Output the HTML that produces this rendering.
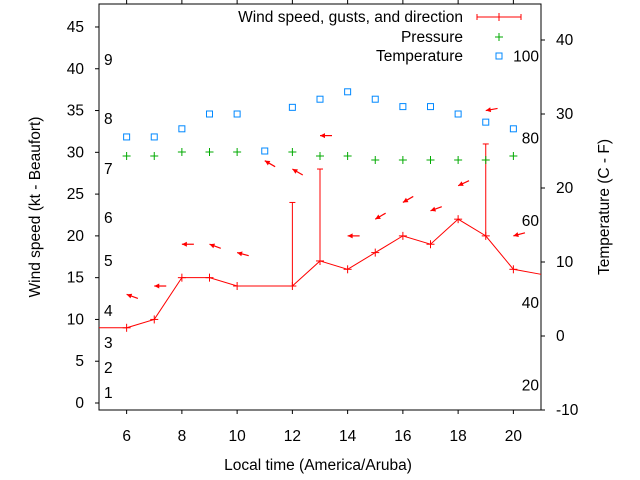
<!DOCTYPE html>
<html><head><meta charset="utf-8"><style>
body{margin:0;background:#fff}
svg{display:block;font-family:"Liberation Sans",sans-serif;font-size:15.5px}
</style></head><body>
<svg id="c" width="640" height="480" viewBox="0 0 640 480">
<rect x="0" y="0" width="640" height="480" fill="#fff"/>
</svg>
<script>
const hours=[6,7,8,9,10,12,13,14,15,16,17,18,19,20];
const windKt=[9,10,15,15,14,14,17,16,18,20,19,22,20,16];
const gustHours=[12,13,19];
const gustKt=[24,28,31];
const windStart=9, windEnd=15.4;
const arrowHours=[6,7,8,9,10,11,12,13,14,15,16,17,18,19,20];
const arrowLevel=[13,14,19,19,18,29,28,32,20,22,24,23,26,35,20];
const windDir=[110,90,90,110,105,120,120,90,90,60,60,70,65,80,75];
const presHours=[6,7,8,9,10,12,13,14,15,16,17,18,19,20];
const pressure=[1012.5,1012.5,1013,1013,1013,1013,1012.5,1012.5,1012,1012,1012,1012,1012,1012.5];
const tempHours=[6,7,8,9,10,11,12,13,14,15,16,17,18,19,20];
const tempC=[26.9,26.9,28,30,30,25,30.9,32,33,32,31,31,30,28.9,28];
const xTicks=[6,8,10,12,14,16,18,20];
const yTicks=[0,5,10,15,20,25,30,35,40,45];
const y2Ticks=[-10,0,10,20,30,40];
const beaufort=[[1,393],[2,368],[3,343],[4,311],[5,261],[6,218],[7,169],[8,119],[9,60]];
const fahr=[100,80,60,40,20];

const L=99,R=541,T=4,B=410;
const X=h=>L+(h-5)*(R-L)/16;
const Y=v=>403-8.356*v;
const Y2=c=>336-7.4*c;
const YP=p=>160-8*(p-1012);
const svg=document.getElementById('c');
const NS='http://www.w3.org/2000/svg';
function mk(t,a,p){const e=document.createElementNS(NS,t);for(const k in a)e.setAttribute(k,a[k]);(p||svg).appendChild(e);return e;}
function txt(s,x,y,anchor,p){const e=mk('text',{x:x,y:y,'text-anchor':anchor||'start',fill:'#000'},p);e.textContent=s;return e;}

const fr=mk('rect',{x:L,y:T,width:R-L,height:B-T,fill:'none',stroke:'#000','stroke-width':1});



xTicks.forEach(h=>{
  const g=mk('g',{});
  
  
  mk('line',{x1:X(h),x2:X(h),y1:B,y2:B+4,stroke:'#000'},g);
  mk('line',{x1:X(h),x2:X(h),y1:T,y2:T-4,stroke:'#000'},g);
  txt(String(h),X(h),441,'middle',g);
});
yTicks.forEach(v=>{
  const g=mk('g',{});
  
  
  mk('line',{x1:L-4,x2:L,y1:Y(v),y2:Y(v),stroke:'#000'},g);
  txt(String(v),84,Y(v)+5,'end',g);
});
y2Ticks.forEach(v=>{
  const g=mk('g',{});
  
  
  mk('line',{x1:R,x2:R+4,y1:Y2(v),y2:Y2(v),stroke:'#000'},g);
  txt(String(v),556,Y2(v)+5,'start',g);
});
beaufort.forEach(b=>{
  const t=txt(String(b[0]),104,b[1]+5,'start');
  
  
});
fahr.forEach(f=>{
  const c=(f-32)*5/9;
  const t=txt(String(f),539,Y2(c)+5,'end');
  
  
});

let pts=[[L,Y(windStart)]];
hours.forEach((h,i)=>pts.push([X(h),Y(windKt[i])]));
pts.push([R,Y(windEnd)]);
const wl=mk('polyline',{points:pts.map(p=>p.join(',')).join(' '),fill:'none',stroke:'#f00','stroke-width':1});


hours.forEach((h,i)=>{
  const g=mk('g',{stroke:'#f00'});
  
  
  const x=X(h),y=Y(windKt[i]);
  mk('line',{x1:x-4,x2:x+4,y1:y,y2:y},g);
  mk('line',{x1:x,x2:x,y1:y-4,y2:y+4},g);
});
gustHours.forEach((h,i)=>{
  const k=hours.indexOf(h);
  const g=mk('g',{stroke:'#f00'});
  
  
  const x=X(h);
  mk('line',{x1:x,x2:x,y1:Y(windKt[k]),y2:Y(gustKt[i])},g);
  mk('line',{x1:x-3,x2:x+3,y1:Y(gustKt[i]),y2:Y(gustKt[i])},g);
});
arrowHours.forEach((h,i)=>{
  const b=(windDir[i]+180)*Math.PI/180;
  const dx=Math.sin(b),dy=-Math.cos(b);
  const tx=X(h),ty=Y(arrowLevel[i]);
  const len=12;
  const ax=tx-dx*len, ay=ty-dy*len;
  const g=mk('g',{});
  
  
  mk('line',{x1:ax,y1:ay,x2:tx,y2:ty,stroke:'#f00','stroke-width':1.2},g);
  const px=-dy,py=dx;
  const bx=tx-dx*5,by=ty-dy*5;
  mk('polygon',{points:`${tx},${ty} ${bx+px*2.5},${by+py*2.5} ${bx-px*2.5},${by-py*2.5}`,fill:'#f00'},g);
});
presHours.forEach((h,i)=>{
  const g=mk('g',{stroke:'#0a0'});
  
  
  const x=X(h),y=YP(pressure[i]);
  mk('line',{x1:x-4,x2:x+4,y1:y,y2:y},g);
  mk('line',{x1:x,x2:x,y1:y-4,y2:y+4},g);
});
tempHours.forEach((h,i)=>{
  const r=mk('rect',{x:X(h)-3,y:Y2(tempC[i])-3,width:6,height:6,fill:'none',stroke:'#08f'});
  
  
});
const lg=mk('g',{});


txt('Wind speed, gusts, and direction',463,22,'end',lg);
txt('Pressure',463,42,'end',lg);
txt('Temperature',463,61,'end',lg);
const ls=mk('g',{stroke:'#f00'},lg);
mk('line',{x1:477,x2:521,y1:17,y2:17},ls);
mk('line',{x1:477,x2:477,y1:14,y2:20},ls);
mk('line',{x1:521,x2:521,y1:14,y2:20},ls);
mk('line',{x1:499,x2:499,y1:13,y2:21},ls);
const lp=mk('g',{stroke:'#0a0'},lg);
mk('line',{x1:495,x2:503,y1:37,y2:37},lp);
mk('line',{x1:499,x2:499,y1:33,y2:41},lp);
mk('rect',{x:496,y:53,width:6,height:6,fill:'none',stroke:'#08f'},lg);
let t=txt('Wind speed (kt - Beaufort)',0,0,'middle');
t.setAttribute('transform','translate(40,207) rotate(-90)');


t=txt('Temperature (C - F)',0,0,'middle');
t.setAttribute('transform','translate(609,207) rotate(-90)');


t=txt('Local time (America/Aruba)',318,470,'middle');


</script>
</body></html>
